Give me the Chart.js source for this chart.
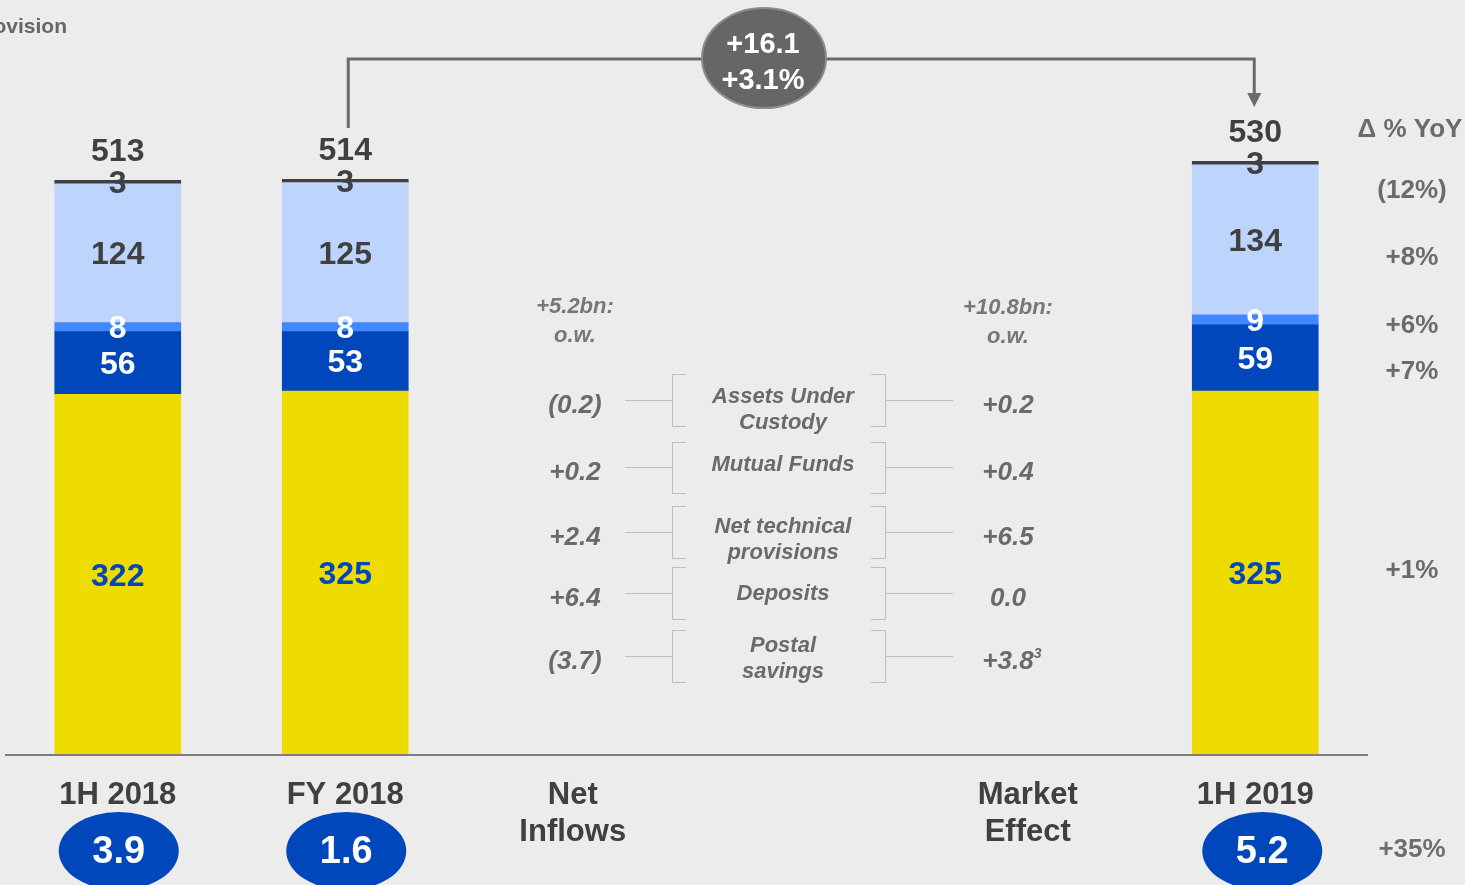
<!DOCTYPE html>
<html>
<head>
<meta charset="utf-8">
<script src="https://cdn.jsdelivr.net/npm/chart.js@4"></script>
<style>
  html, body { margin: 0; padding: 0; background: #ececec; }
  #wrap { width: 1465px; height: 885px; }
</style>
</head>
<body>
<div id="wrap"><canvas id="chart" width="1465" height="885"></canvas></div>
<script>
// categories (multi-line labels under the axis)
const categories = [["1H 2018"], ["FY 2018"], ["Net", "Inflows"], [""], ["Market", "Effect"], ["1H 2019"]];

// stacked series, bottom to top (EUR bn)
const postalSavings = [322, 325, null, null, null, 325];
const mutualFunds   = [56, 53, null, null, null, 59];
const deposits      = [8, 8, null, null, null, 9];
const techProv      = [124, 125, null, null, null, 134];
const auc           = [3, 3, null, null, null, 3];
const totals        = [513, 514, null, null, null, 530];

// bubbles under the axis + yoy
const bubbles = [3.9, 1.6, null, null, null, 5.2];
const bubbleYoY = "+35%";
const yoyHeader = "\u0394 % YoY";
const yoyValues = ["(12%)", "+8%", "+6%", "+7%", "+1%"];

// growth bubble
const growthAbs = "+16.1";
const growthPct = "+3.1%";

// breakdown panel
const flowRows   = [["Assets Under", "Custody"], ["Mutual Funds"], ["Net technical", "provisions"], ["Deposits"], ["Postal", "savings"]];
const netInflows = ["(0.2)", "+0.2", "+2.4", "+6.4", "(3.7)"];
const mktEffect  = ["+0.2", "+0.4", "+6.5", "0.0", "+3.8"];
const netInflowsHead = ["+5.2bn:", "o.w."];
const mktEffectHead  = ["+10.8bn:", "o.w."];

const segColors  = ["#EEDC00", "#0047BB", "#4287FF", "#BDD5FC", "#404040"];
const textColors = ["#0047BB", "#ffffff", "#ffffff", "#404040", "#404040"];

const FONT = "'Liberation Sans', Arial, sans-serif";

function txt(ctx, s, x, y, font, color, align) {
  ctx.font = font;
  ctx.fillStyle = color;
  ctx.textAlign = align || "center";
  ctx.textBaseline = "middle";
  ctx.fillText(s, x, y);
}

const drawExtras = {
  id: "drawExtras",
  beforeDraw(chart) {
    const ctx = chart.ctx;
    ctx.save();
    ctx.fillStyle = "#ececec";
    ctx.fillRect(0, 0, chart.width, chart.height);
    ctx.restore();
  },
  afterDatasetsDraw(chart) {
    const ctx = chart.ctx;
    const xs = chart.scales.x;
    const area = chart.chartArea;
    ctx.save();

    // axis line
    ctx.strokeStyle = "#7f7f7f";
    ctx.lineWidth = 2;
    ctx.beginPath();
    ctx.moveTo(5, area.bottom);
    ctx.lineTo(1368, area.bottom);
    ctx.stroke();

    // segment labels
    const bold32 = "bold 32px " + FONT;
    chart.data.datasets.forEach((ds, i) => {
      const meta = chart.getDatasetMeta(i);
      meta.data.forEach((el, j) => {
        if (ds.data[j] == null) return;
        txt(ctx, String(ds.data[j]), el.x, (el.y + el.base) / 2 + 2, bold32, textColors[i]);
      });
    });

    // totals
    const topMeta = chart.getDatasetMeta(chart.data.datasets.length - 1);
    totals.forEach((t, j) => {
      if (t == null) return;
      const el = topMeta.data[j];
      txt(ctx, String(t), el.x, el.y - 28, bold32, "#404040");
    });

    // category labels
    categories.forEach((lines, j) => {
      const x = xs.getPixelForValue(j);
      lines.forEach((s, k) => txt(ctx, s, x, 795 + k * 37, "bold 31px " + FONT, "#404040"));
    });

    // bubbles
    bubbles.forEach((b, j) => {
      if (b == null) return;
      const x = xs.getPixelForValue(j) + (j === 5 ? 7 : 1);
      ctx.fillStyle = "#0047BB";
      ctx.beginPath();
      ctx.ellipse(x, 851, 60, 39, 0, 0, Math.PI * 2);
      ctx.fill();
      txt(ctx, b.toFixed(1), x, 853, "bold 38px " + FONT, "#ffffff");
    });
    txt(ctx, bubbleYoY, 1412, 850, "bold 26px " + FONT, "#6e6e6e");

    // yoy column
    txt(ctx, yoyHeader, 1410, 130, "bold 26px " + FONT, "#6b6b6b");
    const yoyY = [191, 258, 326, 372, 571];
    yoyValues.forEach((s, k) => txt(ctx, s, 1412, yoyY[k], "bold 26px " + FONT, "#6b6b6b"));

    // top-left cut text
    txt(ctx, "provision", 67, 27, "bold 21px " + FONT, "#666666", "right");

    // growth connector
    const x1 = xs.getPixelForValue(1) + 3;
    const x2 = xs.getPixelForValue(5) - 1;
    ctx.strokeStyle = "#6b6b6b";
    ctx.lineWidth = 3;
    ctx.beginPath();
    ctx.moveTo(x1, 128);
    ctx.lineTo(x1, 59);
    ctx.lineTo(x2, 59);
    ctx.lineTo(x2, 94);
    ctx.stroke();
    ctx.fillStyle = "#6b6b6b";
    ctx.beginPath();
    ctx.moveTo(x2 - 7, 93);
    ctx.lineTo(x2 + 7, 93);
    ctx.lineTo(x2, 107);
    ctx.closePath();
    ctx.fill();

    ctx.fillStyle = "#666666";
    ctx.strokeStyle = "#8c8c8c";
    ctx.lineWidth = 2;
    ctx.beginPath();
    ctx.ellipse(764, 58, 62, 50, 0, 0, Math.PI * 2);
    ctx.fill();
    ctx.stroke();
    txt(ctx, growthAbs, 763, 45, "bold 29px " + FONT, "#ffffff");
    txt(ctx, growthPct, 763, 81, "bold 29px " + FONT, "#ffffff");

    // breakdown panel
    const headFont = "italic bold 22px " + FONT;
    netInflowsHead.forEach((s, k) => txt(ctx, s, 575, 307 + k * 29, headFont, "#777777"));
    mktEffectHead.forEach((s, k) => txt(ctx, s, 1008, 308 + k * 29, headFont, "#777777"));

    const rowY = [400, 467, 532, 593, 656];
    const rowTop = [374, 442, 506, 567, 630];
    const rowBot = [426, 493, 558, 619, 682];
    const lblY = [397, 465, 527, 594, 646];
    const valFont = "italic bold 26px " + FONT;
    const lblFont = "italic bold 22px " + FONT;
    ctx.strokeStyle = "#bdbdbd";
    ctx.lineWidth = 1;
    flowRows.forEach((lines, k) => {
      const y = rowY[k];
      ctx.beginPath();
      ctx.moveTo(625, y + 0.5); ctx.lineTo(672, y + 0.5);
      ctx.moveTo(886, y + 0.5); ctx.lineTo(953, y + 0.5);
      // left bracket
      ctx.moveTo(686, rowTop[k] + 0.5); ctx.lineTo(672.5, rowTop[k] + 0.5);
      ctx.lineTo(672.5, rowBot[k] + 0.5); ctx.lineTo(686, rowBot[k] + 0.5);
      // right bracket
      ctx.moveTo(871, rowTop[k] + 0.5); ctx.lineTo(885.5, rowTop[k] + 0.5);
      ctx.lineTo(885.5, rowBot[k] + 0.5); ctx.lineTo(871, rowBot[k] + 0.5);
      ctx.stroke();

      lines.forEach((s, m) => txt(ctx, s, 783, lblY[k] + m * 26, lblFont, "#6a6a6a"));
      txt(ctx, netInflows[k], 575, y + 6, valFont, "#6a6a6a");
      txt(ctx, mktEffect[k], 1008, y + 6, valFont, "#6a6a6a");
    });
    // footnote marker on the last market effect value
    ctx.font = valFont;
    const w = ctx.measureText(mktEffect[4]).width;
    txt(ctx, "3", 1008 + w / 2 + 4, rowY[4] - 2, "italic bold 14px " + FONT, "#6a6a6a");

    ctx.restore();
  }
};

new Chart(document.getElementById("chart"), {
  type: "bar",
  data: {
    labels: categories,
    datasets: [
      { label: "Postal savings", data: postalSavings, backgroundColor: segColors[0] },
      { label: "Mutual Funds", data: mutualFunds, backgroundColor: segColors[1] },
      { label: "Deposits", data: deposits, backgroundColor: segColors[2] },
      { label: "Net technical provisions", data: techProv, backgroundColor: segColors[3] },
      { label: "Assets Under Custody", data: auc, backgroundColor: segColors[4] }
    ]
  },
  options: {
    responsive: false,
    animation: false,
    layout: { padding: { left: 4, right: 96, top: 27, bottom: 130 } },
    datasets: { bar: { barThickness: 126 } },
    plugins: { legend: { display: false }, tooltip: { enabled: false } },
    scales: {
      x: { stacked: true, display: false },
      y: { stacked: true, display: false, min: 0, max: 650 }
    }
  },
  plugins: [drawExtras]
});
</script>
</body>
</html>
